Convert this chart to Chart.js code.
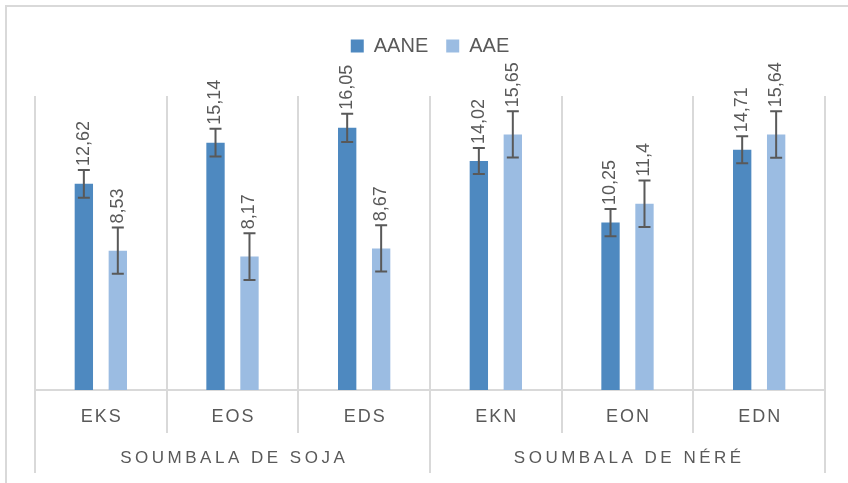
<!DOCTYPE html>
<html>
<head>
<meta charset="utf-8">
<script src="https://cdn.jsdelivr.net/npm/chart.js@4"></script>
<style>
  html, body { margin: 0; padding: 0; background: #fff; }
  #wrap { width: 848px; height: 483px; }
</style>
</head>
<body>
<div id="wrap"><canvas id="chart" width="848" height="483"></canvas></div>
<script>
const categories = ['EKS', 'EOS', 'EDS', 'EKN', 'EON', 'EDN'];
const groups = ['SOUMBALA DE SOJA', 'SOUMBALA DE NÉRÉ'];
const groupSize = 3;
const aane = [12.62, 15.14, 16.05, 14.02, 10.25, 14.71];
const aae = [8.53, 8.17, 8.67, 15.65, 11.4, 15.64];
const aaneErr = [0.85, 0.85, 0.86, 0.80, 0.83, 0.83];
const aaeErr = [1.42, 1.43, 1.42, 1.42, 1.42, 1.42];

const textColor = '#595959';
const lineColor = '#d9d9d9';
const font = '"Liberation Sans", Arial, sans-serif';

// text with letter spacing, drawn char by char
function spacedText(ctx, str, cx, cy, spacing) {
  let w = 0;
  for (const ch of str) w += ctx.measureText(ch).width + spacing;
  w -= spacing;
  let x = cx - w / 2;
  ctx.textAlign = 'left';
  ctx.textBaseline = 'middle';
  for (const ch of str) {
    ctx.fillText(ch, x, cy);
    x += ctx.measureText(ch).width + spacing;
  }
}

const legendSpace = {
  id: 'legendSpace',
  beforeInit(chart) {
    const fit = chart.legend.fit;
    chart.legend.fit = function () {
      fit.bind(chart.legend)();
      this.height += 30;
    };
  }
};

const frame = {
  id: 'frame',
  beforeDraw(chart) {
    const ctx = chart.ctx;
    ctx.save();
    ctx.strokeStyle = lineColor;
    ctx.lineWidth = 2;
    ctx.beginPath();
    ctx.moveTo(6, 483);
    ctx.lineTo(6, 6);
    ctx.lineTo(848, 6);
    ctx.stroke();
    ctx.restore();
  }
};

const extras = {
  id: 'extras',
  afterDatasetsDraw(chart) {
    const ctx = chart.ctx;
    const y = chart.scales.y;
    const x = chart.scales.x;
    const errs = [aaneErr, aaeErr];
    ctx.save();
    chart.data.datasets.forEach((ds, di) => {
      const meta = chart.getDatasetMeta(di);
      meta.data.forEach((bar, i) => {
        const v = ds.data[i];
        const e = errs[di][i];
        const yt = y.getPixelForValue(v + e);
        const yb = y.getPixelForValue(v - e);
        ctx.strokeStyle = '#595959';
        ctx.lineWidth = 2;
        ctx.beginPath();
        ctx.moveTo(bar.x, yt); ctx.lineTo(bar.x, yb);
        ctx.moveTo(bar.x - 6, yt); ctx.lineTo(bar.x + 6, yt);
        ctx.moveTo(bar.x - 6, yb); ctx.lineTo(bar.x + 6, yb);
        ctx.stroke();
        // rotated value label
        ctx.save();
        ctx.translate(bar.x, yt - 4);
        ctx.rotate(-Math.PI / 2);
        ctx.fillStyle = textColor;
        ctx.font = '18px ' + font;
        ctx.textAlign = 'left';
        ctx.textBaseline = 'middle';
        ctx.fillText(String(v).replace('.', ','), 0, 0);
        ctx.restore();
      });
    });

    // multi-level category axis
    const bottom = chart.chartArea.bottom;
    const step = x.getPixelForValue(1) - x.getPixelForValue(0);
    ctx.fillStyle = textColor;
    ctx.font = '18px ' + font;
    categories.forEach((c, i) => {
      spacedText(ctx, c, x.getPixelForValue(i), 417, 2);
    });
    ctx.strokeStyle = lineColor;
    ctx.lineWidth = 2;
    for (let g = 0; g <= groups.length; g++) {
      const px = x.getPixelForValue(0) - step / 2 + g * groupSize * step;
      ctx.beginPath();
      ctx.moveTo(px, bottom);
      ctx.lineTo(px, 473);
      ctx.stroke();
    }
    ctx.font = '17px ' + font;
    groups.forEach((gname, g) => {
      const a = x.getPixelForValue(g * groupSize);
      const b = x.getPixelForValue(g * groupSize + groupSize - 1);
      spacedText(ctx, gname, (a + b) / 2, 458, 3.5);
    });
    ctx.restore();
  }
};

new Chart(document.getElementById('chart'), {
  type: 'bar',
  data: {
    labels: categories,
    datasets: [
      {
        label: 'AANE',
        data: aane,
        backgroundColor: '#4e89c0',
        categoryPercentage: 0.516,
        barPercentage: 0.54
      },
      {
        label: 'AAE',
        data: aae,
        backgroundColor: '#9bbce2',
        categoryPercentage: 0.516,
        barPercentage: 0.54
      }
    ]
  },
  options: {
    responsive: false,
    animation: false,
    layout: {
      padding: { left: 35, right: 23, top: 18, bottom: 50 }
    },
    scales: {
      x: {
        grid: {
          offset: true,
          color: lineColor,
          lineWidth: 2,
          drawTicks: true,
          tickLength: 43
        },
        border: { color: lineColor, width: 2 },
        ticks: { display: false }
      },
      y: {
        display: false,
        min: 0,
        max: 18
      }
    },
    plugins: {
      legend: {
        position: 'top',
        labels: {
          boxWidth: 13,
          boxHeight: 13,
          padding: 18,
          color: textColor,
          font: { size: 20, family: font }
        }
      },
      tooltip: { enabled: false }
    }
  },
  plugins: [legendSpace, frame, extras]
});
</script>
</body>
</html>
